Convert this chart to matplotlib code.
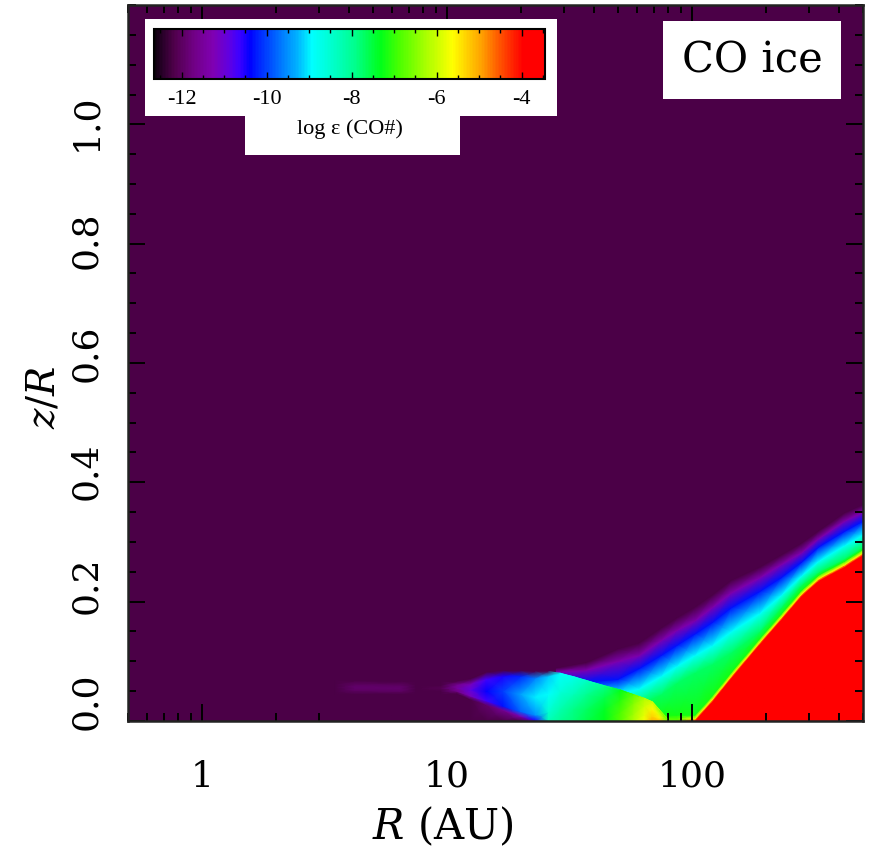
import numpy as np
import matplotlib.pyplot as plt
from matplotlib.colors import LinearSegmentedColormap, Normalize
from matplotlib.cm import ScalarMappable
from matplotlib.patches import Polygon, Rectangle
from matplotlib.ticker import LogLocator, MultipleLocator, NullFormatter
from matplotlib.transforms import ScaledTranslation

plt.rcParams["font.family"] = "DejaVu Serif"
plt.rcParams["mathtext.fontset"] = "dejavuserif"

BG = -12.2     # log abundance of the empty upper disk
RED = -3.5     # saturated CO ice

# outer layer: heights (z/R) of each colour level along R
BAND_R = [28, 37, 50, 61, 75, 87, 103, 121, 145, 189, 231, 280, 330, 420, 500]
BAND_FLOOR = [-6.8, -6.8, -6.8, -6.8, -6.8, -6.8, RED, RED, RED, RED, RED, RED, RED, RED, RED]
BAND_RED = [0, 0, 0, 0, 0, 0, 0, 0.032, 0.072, 0.128, 0.169, 0.209, 0.235, 0.258, 0.278]
BAND_GREEN = [0.015, 0.018, 0.022, 0.028, 0.045, 0.064, 0.081, 0.095, 0.115, 0.15, 0.19, 0.228, 0.25, 0.272, 0.292]
BAND_CYAN = [0.03, 0.04, 0.045, 0.054, 0.075, 0.092, 0.11, 0.126, 0.15, 0.18, 0.21, 0.243, 0.268, 0.294, 0.312]
BAND_BLUE = [0.06, 0.065, 0.07, 0.088, 0.11, 0.127, 0.146, 0.165, 0.19, 0.217, 0.24, 0.266, 0.292, 0.318, 0.335]
BAND_PURPLE = [0.082, 0.085, 0.1, 0.11, 0.135, 0.152, 0.168, 0.19, 0.215, 0.24, 0.262, 0.282, 0.306, 0.335, 0.35]
BAND_TOP = [0.088, 0.097, 0.12, 0.13, 0.155, 0.172, 0.19, 0.21, 0.235, 0.257, 0.277, 0.297, 0.318, 0.348, 0.362]
LEVEL_V = {"green": -7.7, "cyan": -8.9, "blue": -10.3, "purple": -11.3}

# inner midplane structure: nodes (z/R, log eps) per radius column
INNER_R = [3.5, 4.2, 6.5, 7.5, 9.5, 11, 12.5, 14.5, 17, 20, 23, 26,
           29, 33, 37, 44, 51, 58, 64, 69, 74, 79]
INNER_Z = [
    [0, 0.045, 0.050, 0.056, 0.062, 0.068],
    [0, 0.045, 0.051, 0.056, 0.061, 0.067],
    [0, 0.045, 0.050, 0.055, 0.060, 0.066],
    [0, 0.045, 0.050, 0.055, 0.060, 0.066],
    [0, 0.045, 0.050, 0.055, 0.060, 0.066],
    [0, 0.046, 0.050, 0.055, 0.061, 0.066],
    [0, 0.036, 0.042, 0.052, 0.062, 0.070],
    [0, 0.027, 0.034, 0.050, 0.070, 0.081],
    [0, 0.018, 0.025, 0.050, 0.075, 0.084],
    [0, 0.008, 0.016, 0.045, 0.075, 0.084],
    [0, 0.001, 0.010, 0.040, 0.072, 0.083],
    [0, 0.001, 0.015, 0.045, 0.075, 0.083],
    [0, 0.001, 0.020, 0.050, 0.079, 0.080],
    [0, 0.001, 0.020, 0.045, 0.073, 0.074],
    [0, 0.001, 0.020, 0.045, 0.067, 0.068],
    [0, 0.001, 0.020, 0.040, 0.058, 0.059],
    [0, 0.001, 0.015, 0.035, 0.051, 0.052],
    [0, 0.001, 0.012, 0.030, 0.043, 0.044],
    [0, 0.001, 0.010, 0.025, 0.037, 0.038],
    [0, 0.001, 0.008, 0.020, 0.031, 0.032],
    [0, 0.001, 0.005, 0.011, 0.017, 0.018],
    [0, 0.001, 0.002, 0.003, 0.004, 0.005],
]
INNER_V = [
    [BG, BG, BG, BG, BG, BG],
    [BG, BG, -12.0, -11.9, -12.0, BG],
    [BG, BG, -12.0, -11.9, -12.0, BG],
    [BG, BG, BG, BG, BG, BG],
    [BG, BG, BG, -12.1, BG, BG],
    [BG, BG, -11.7, -11.5, -11.6, BG],
    [BG, BG, -11.2, -10.9, -11.2, BG],
    [BG, -11.9, -10.7, -10.4, -10.7, BG],
    [BG, -11.6, -10.3, -10.0, -10.5, BG],
    [BG, -11.3, -9.8, -9.4, -10.2, BG],
    [-11.0, -10.5, -9.5, -9.0, -9.6, BG],
    [-8.3, -8.3, -8.5, -8.9, -9.2, BG],
    [-8.0, -8.0, -8.2, -8.6, -8.9, -8.9],
    [-7.8, -7.8, -7.9, -8.3, -8.7, -8.7],
    [-7.6, -7.6, -7.7, -8.0, -8.4, -8.4],
    [-7.3, -7.3, -7.4, -7.6, -7.9, -7.9],
    [-6.8, -6.8, -6.9, -7.1, -7.3, -7.3],
    [-6.2, -6.2, -6.3, -6.5, -6.7, -6.7],
    [-5.7, -5.7, -5.8, -6.0, -6.2, -6.2],
    [-5.1, -5.1, -5.3, -5.6, -5.9, -5.9],
    [-5.2, -5.2, -5.5, -5.9, -6.3, -6.3],
    [-6.6, -6.6, -6.6, -6.6, -6.6, -6.6],
]

CBAR_TICKS = [-12, -10, -8, -6, -4]

# IDL-style rainbow with black
CMAP = LinearSegmentedColormap.from_list("rainbow_black", [
    (0.00, (0.05, 0.0, 0.05)), (0.02, (0.16, 0.0, 0.16)),
    (0.05, (0.31, 0.0, 0.29)), (0.10, (0.44, 0.0, 0.52)),
    (0.15, (0.50, 0.0, 0.70)), (0.19, (0.38, 0.0, 0.88)),
    (0.215, (0.25, 0.0, 1.0)), (0.245, (0.0, 0.0, 1.0)),
    (0.26, (0.0, 0.1, 1.0)), (0.33, (0.0, 0.5, 1.0)),
    (0.366, (0.0, 0.7, 1.0)), (0.404, (0.0, 1.0, 1.0)),
    (0.468, (0.0, 1.0, 0.75)), (0.514, (0.0, 1.0, 0.55)),
    (0.58, (0.0, 1.0, 0.1)), (0.63, (0.3, 1.0, 0.0)),
    (0.69, (0.63, 1.0, 0.0)), (0.765, (1.0, 1.0, 0.0)),
    (0.80, (1.0, 0.82, 0.0)), (0.84, (1.0, 0.63, 0.0)),
    (0.877, (1.0, 0.38, 0.0)), (0.91, (1.0, 0.19, 0.0)),
    (0.944, (1.0, 0.0, 0.0)), (1.00, (1.0, 0.0, 0.0)),
])
NORM = Normalize(vmin=-12.65, vmax=-3.45)

fig = plt.figure(figsize=(8.72, 8.49), dpi=100)
ax = fig.add_axes([0.1468, 0.1508, 0.8429, 0.8433])
ax.set_facecolor(CMAP(NORM(BG)))

# outer band + red wedge
r = np.array(BAND_R, float)
red = np.array(BAND_RED)
floor = np.array(BAND_FLOOR)
rim = np.where(floor == RED, -5.6, floor)
zb = np.vstack([np.zeros_like(r), red, red + 0.004, red + 0.010,
                BAND_GREEN, BAND_CYAN, BAND_BLUE, BAND_PURPLE, BAND_TOP])
vb = np.vstack([floor, floor, rim, np.full_like(r, -7.2),
                np.full_like(r, LEVEL_V["green"]), np.full_like(r, LEVEL_V["cyan"]),
                np.full_like(r, LEVEL_V["blue"]), np.full_like(r, LEVEL_V["purple"]),
                np.full_like(r, BG)])
ax.pcolormesh(np.tile(r, (zb.shape[0], 1)), zb, vb, shading="gouraud",
              cmap=CMAP, norm=NORM, zorder=1)

# midplane structure inside ~80 AU
ri = np.array(INNER_R, float)
zi = np.array(INNER_Z).T
vi = np.array(INNER_V).T
ax.pcolormesh(np.tile(ri, (zi.shape[0], 1)), zi, vi, shading="gouraud",
              cmap=CMAP, norm=NORM, zorder=2)

ax.set_xscale("log")
ax.set_xlim(0.5, 500)
ax.set_ylim(0, 1.2)
ax.set_xticks([1, 10, 100], labels=["1", "10", "100"])
ax.xaxis.set_minor_locator(LogLocator(base=10, subs=np.arange(2, 10)))
ax.xaxis.set_minor_formatter(NullFormatter())
yt = np.arange(0, 1.01, 0.2)
ax.set_yticks(yt, labels=[f"{v:.1f}" for v in yt])
ax.yaxis.set_minor_locator(MultipleLocator(0.05))

ax.tick_params(which="both", direction="in", top=True, right=True,
               width=1.4, color="black", zorder=6)
ax.tick_params(which="major", length=12)
ax.tick_params(which="minor", length=6)
ax.tick_params(axis="x", labelsize=26, pad=28)
ax.tick_params(axis="y", labelsize=26, pad=18, labelrotation=90)
# y labels sit a little above their ticks, more so near the midplane
for tick, lift in zip(ax.yaxis.get_major_ticks(), [20, 16, 11, 10, 3, 2]):
    tick.label1.set_va("center")
    tick.label1.set_transform(tick.label1.get_transform()
                              + ScaledTranslation(0, lift / 100, fig.dpi_scale_trans))
for s in ax.spines.values():
    s.set_linewidth(1.8)
    s.set_color("#222222")
    s.set_zorder(7)

ax.set_xlabel(r"$R$ (AU)", fontsize=30)
ax.xaxis.set_label_coords(0.4286, -0.117)
ax.set_ylabel(r"$z/R$", fontsize=28, va="center")
ax.yaxis.set_label_coords(-0.114, 0.4525)

# white panel behind the colour bar
panel = Polygon([(0.0231, 0.980), (0.5837, 0.980), (0.5837, 0.845), (0.452, 0.845),
                 (0.452, 0.7905), (0.159, 0.7905), (0.159, 0.845), (0.0231, 0.845)],
                closed=True, transform=ax.transAxes, facecolor="white",
                edgecolor="none", zorder=5)
ax.add_patch(panel)

# species label
ax.add_patch(Rectangle((0.728, 0.8687), 0.242, 0.109, transform=ax.transAxes,
                       facecolor="white", edgecolor="none", zorder=5))
ax.text(0.849, 0.923, "CO ice", transform=ax.transAxes, ha="center", va="center",
        fontsize=30, zorder=6)

cax = fig.add_axes([0.1766, 0.9069, 0.4484, 0.0589])
cb = fig.colorbar(ScalarMappable(norm=NORM, cmap=CMAP), cax=cax, orientation="horizontal")
cb.set_ticks(CBAR_TICKS, labels=[f"{t:d}" for t in CBAR_TICKS])
cb.ax.xaxis.set_minor_locator(MultipleLocator(0.5))
cb.outline.set_linewidth(1.5)
cax.tick_params(which="both", direction="in", top=True, bottom=True, width=1.0,
                labelsize=16, pad=8)
cax.tick_params(which="major", length=5)
cax.tick_params(which="minor", length=3)
for lab in cax.get_xticklabels():
    lab.set_family("Liberation Serif")
cax.set_xlabel("log ε (CO#)", family="Liberation Serif", fontsize=16, labelpad=7)

fig.savefig("out.png", dpi=100)
